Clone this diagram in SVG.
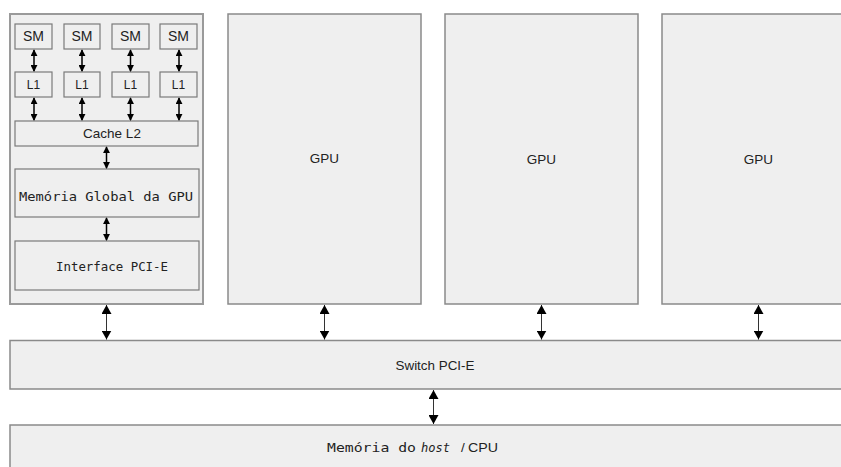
<svg xmlns="http://www.w3.org/2000/svg" width="841" height="467" viewBox="0 0 841 467">
<style>
.box{fill:#efefef;stroke:#8a8a8a;stroke-width:1.5}
.outer{fill:#efefef;stroke:#9a9a9a;stroke-width:2}
.ib{fill:#efefef;stroke:#7a7a7a;stroke-width:1.2}
.sans{font-family:"Liberation Sans",Arial,sans-serif;fill:#222;text-anchor:middle}
.mono{font-family:"DejaVu Sans Mono",monospace;fill:#222}
.sa{stroke:#000;stroke-width:1.5;marker-start:url(#hs);marker-end:url(#hs)}
.la{stroke:#333;stroke-width:1;marker-start:url(#hl);marker-end:url(#hl)}
</style>
<defs>
<marker id="hs" viewBox="0 0 8 8" refX="7" refY="4" markerWidth="7" markerHeight="7" markerUnits="userSpaceOnUse" orient="auto-start-reverse"><path d="M0,0 L8,4 L0,8 Z" fill="#000"/></marker>
<marker id="hl" viewBox="0 0 9 10" refX="9" refY="5" markerWidth="9" markerHeight="10" markerUnits="userSpaceOnUse" orient="auto-start-reverse"><path d="M0,0 L9,5 L0,10 Z" fill="#000"/></marker>
</defs>

<g id="gpu1">
<rect class="outer" x="10" y="14" width="193" height="290"/>
<g id="sm1"><rect class="ib" x="15" y="24" width="37" height="25"/><text class="sans" x="33.5" y="41" font-size="14">SM</text></g>
<g id="sm2"><rect class="ib" x="64" y="24" width="36" height="25"/><text class="sans" x="82" y="41" font-size="14">SM</text></g>
<g id="sm3"><rect class="ib" x="112" y="24" width="37" height="25"/><text class="sans" x="130.5" y="41" font-size="14">SM</text></g>
<g id="sm4"><rect class="ib" x="160" y="24" width="37" height="25"/><text class="sans" x="178.5" y="41" font-size="14">SM</text></g>
<g id="l1a"><rect class="ib" x="15" y="72" width="37" height="25"/><text class="sans" x="33.5" y="89" font-size="12">L1</text></g>
<g id="l1b"><rect class="ib" x="64" y="72" width="36" height="25"/><text class="sans" x="82" y="89" font-size="12">L1</text></g>
<g id="l1c"><rect class="ib" x="112" y="72" width="37" height="25"/><text class="sans" x="130.5" y="89" font-size="12">L1</text></g>
<g id="l1d"><rect class="ib" x="160" y="72" width="37" height="25"/><text class="sans" x="178.5" y="89" font-size="12">L1</text></g>
<g id="cache"><rect class="ib" x="15" y="121" width="183" height="25"/><text class="sans" x="112" y="138" font-size="13.5">Cache L2</text></g>
<g id="mem"><rect class="ib" x="15" y="169" width="184" height="48"/><text class="mono" x="106" y="201" font-size="13" text-anchor="middle" textLength="174" lengthAdjust="spacingAndGlyphs">Memória Global da GPU</text></g>
<g id="pcie"><rect class="ib" x="15" y="241" width="184" height="49"/><text class="mono" x="112" y="270.5" font-size="12.5" text-anchor="middle" textLength="112" lengthAdjust="spacingAndGlyphs">Interface PCI-E</text></g>
</g>

<g id="gpu2"><rect class="box" x="228" y="14" width="193" height="290"/><text class="sans" x="324.5" y="163" font-size="13.5">GPU</text></g>
<g id="gpu3"><rect class="box" x="445" y="14" width="193" height="290"/><text class="sans" x="541.5" y="164" font-size="13.5">GPU</text></g>
<g id="gpu4"><rect class="box" x="662" y="14" width="193" height="290"/><text class="sans" x="758.5" y="164" font-size="13.5">GPU</text></g>

<g id="switch"><rect class="box" x="10" y="340.5" width="840" height="48.5"/><text class="sans" x="435" y="370" font-size="13.5" textLength="79" lengthAdjust="spacingAndGlyphs">Switch PCI-E</text></g>

<g id="host"><rect class="box" x="10" y="425" width="840" height="50"/>
<text class="mono" x="327" y="452" font-size="13" textLength="89" lengthAdjust="spacingAndGlyphs">Memória do</text>
<text class="mono" x="421" y="452" font-size="13" font-style="italic" textLength="29" lengthAdjust="spacingAndGlyphs">host</text>
<text class="sans" x="463" y="452" font-size="13.5">/</text>
<text class="sans" x="483" y="452" font-size="13.5" textLength="30" lengthAdjust="spacingAndGlyphs">CPU</text>
</g>

<g id="connectors">
<line class="sa" x1="34" y1="50" x2="34" y2="71"/>
<line class="sa" x1="82" y1="50" x2="82" y2="71"/>
<line class="sa" x1="130.5" y1="50" x2="130.5" y2="71"/>
<line class="sa" x1="179" y1="50" x2="179" y2="71"/>
<line class="sa" x1="34" y1="98" x2="34" y2="120"/>
<line class="sa" x1="82" y1="98" x2="82" y2="120"/>
<line class="sa" x1="130.5" y1="98" x2="130.5" y2="120"/>
<line class="sa" x1="179" y1="98" x2="179" y2="120"/>
<line class="sa" x1="106.5" y1="147" x2="106.5" y2="168"/>
<line class="sa" x1="106.5" y1="218" x2="106.5" y2="240"/>
<line class="la" x1="106.5" y1="305" x2="106.5" y2="339.5"/>
<line class="la" x1="324.5" y1="305" x2="324.5" y2="339.5"/>
<line class="la" x1="541.5" y1="305" x2="541.5" y2="339.5"/>
<line class="la" x1="758.5" y1="305" x2="758.5" y2="339.5"/>
<line class="la" x1="433.5" y1="390" x2="433.5" y2="424"/>
</g>
</svg>
